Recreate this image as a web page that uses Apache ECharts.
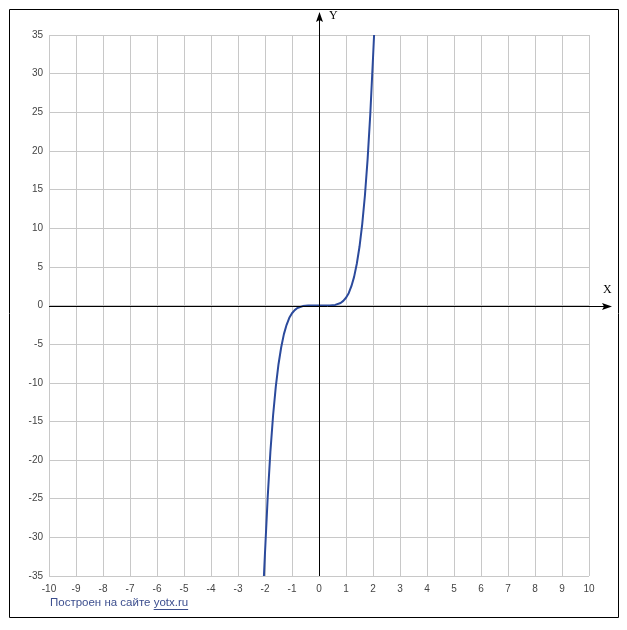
<!DOCTYPE html>
<html>
<head>
<meta charset="utf-8">
<script src="https://cdn.jsdelivr.net/npm/echarts@6/dist/echarts.min.js"></script>
<style>
  html, body { margin: 0; padding: 0; background: #fff; }
  #main { width: 627px; height: 630px; }
</style>
</head>
<body>
<div id="main"></div>
<script>
// values
var xValues = [-2.04, -2, -1.9, -1.8, -1.7, -1.6, -1.5, -1.4, -1.3, -1.2, -1.1, -1, -0.9, -0.8, -0.6, -0.4, -0.2, 0,
               0.2, 0.4, 0.6, 0.8, 0.9, 1, 1.1, 1.2, 1.3, 1.4, 1.5, 1.6, 1.7, 1.8, 1.9, 2, 2.04];
var yValues = [-35, -32, -24.8, -18.9, -14.2, -10.5, -7.6, -5.4, -3.7, -2.5, -1.6, -1, -0.6, -0.33, -0.08, -0.01, 0, 0,
               0, 0.01, 0.08, 0.33, 0.6, 1, 1.6, 2.5, 3.7, 5.4, 7.6, 10.5, 14.2, 18.9, 24.8, 32, 35];
var xTicks = [-10, 10, 1];   // min, max, step
var yTicks = [-35, 35, 5];
var axisNames = ['X', 'Y'];
var footerText = 'Построен на сайте ';
var footerLink = 'yotx.ru';

var points = [];
for (var i = 0; i < xValues.length; i++) {
  points.push([xValues[i], yValues[i]]);
}

var chart = echarts.init(document.getElementById('main'));

var labelStyle = {
  color: '#444',
  fontFamily: 'Liberation Sans',
  fontSize: 10
};

chart.setOption({
  animation: false,
  grid: { left: 49, right: 38, top: 35, bottom: 54 },
  xAxis: {
    type: 'value',
    position: 'bottom',
    min: xTicks[0], max: xTicks[1], interval: xTicks[2],
    axisLine: { show: false, onZero: false },
    axisTick: { show: false },
    axisLabel: Object.assign({ margin: 8 }, labelStyle),
    splitLine: { show: true, lineStyle: { color: '#c8c8c8', width: 1 } }
  },
  yAxis: {
    type: 'value',
    position: 'left',
    min: yTicks[0], max: yTicks[1], interval: yTicks[2],
    axisLine: { show: false, onZero: false },
    axisTick: { show: false },
    axisLabel: Object.assign({ margin: 6 }, labelStyle),
    splitLine: { show: true, lineStyle: { color: '#c8c8c8', width: 1 } }
  },
  series: [{
    type: 'line',
    data: points,
    showSymbol: false,
    smooth: false,
    clip: true,
    lineStyle: { color: '#2b4a9c', width: 2 },
    z: 3
  }]
});

// black axes through zero with arrows, border and footer
var origin = chart.convertToPixel({ gridIndex: 0 }, [0, 0]);
var bottomLeft = chart.convertToPixel({ gridIndex: 0 }, [xTicks[0], yTicks[0]]);
var ox = Math.round(origin[0]) + 0.5;
var oy = Math.round(origin[1]) + 0.5;

var ctx = document.createElement('canvas').getContext('2d');
ctx.font = '11.5px "Liberation Sans"';
var w1 = ctx.measureText(footerText).width;
var w2 = ctx.measureText(footerLink).width;
var fx = bottomLeft[0] + 1;
var fy = 597;

chart.setOption({
  graphic: [
    { type: 'rect', shape: { x: 9.5, y: 9.5, width: 609, height: 608 },
      style: { fill: null, stroke: '#000', lineWidth: 1 }, silent: true },
    { type: 'line', shape: { x1: bottomLeft[0], y1: oy, x2: 606, y2: oy },
      style: { stroke: '#000', lineWidth: 1 }, z: 10 },
    { type: 'polygon', shape: { points: [[612, oy], [602, oy - 3.5], [604, oy], [602, oy + 3.5]] },
      style: { fill: '#000' }, z: 10 },
    { type: 'line', shape: { x1: ox, y1: bottomLeft[1], x2: ox, y2: 18 },
      style: { stroke: '#000', lineWidth: 1 }, z: 10 },
    { type: 'polygon', shape: { points: [[ox, 12], [ox - 3.5, 22], [ox, 20], [ox + 3.5, 22]] },
      style: { fill: '#000' }, z: 10 },
    { type: 'text', left: 603, top: 284,
      style: { text: axisNames[0], fill: '#000', font: '12px "Liberation Serif"' }, z: 10 },
    { type: 'text', left: 329, top: 10,
      style: { text: axisNames[1], fill: '#000', font: '12px "Liberation Serif"' }, z: 10 },
    { type: 'text', left: fx, top: fy,
      style: { text: footerText, fill: '#3c4e8e', font: '11.5px "Liberation Sans"' } },
    { type: 'text', left: fx + w1, top: fy,
      style: { text: footerLink, fill: '#3c4e8e', font: '11.5px "Liberation Sans"' } },
    { type: 'line', shape: { x1: fx + w1, y1: fy + 12.5, x2: fx + w1 + w2, y2: fy + 12.5 },
      style: { stroke: '#3c4e8e', lineWidth: 1 } }
  ]
});
</script>
</body>
</html>
